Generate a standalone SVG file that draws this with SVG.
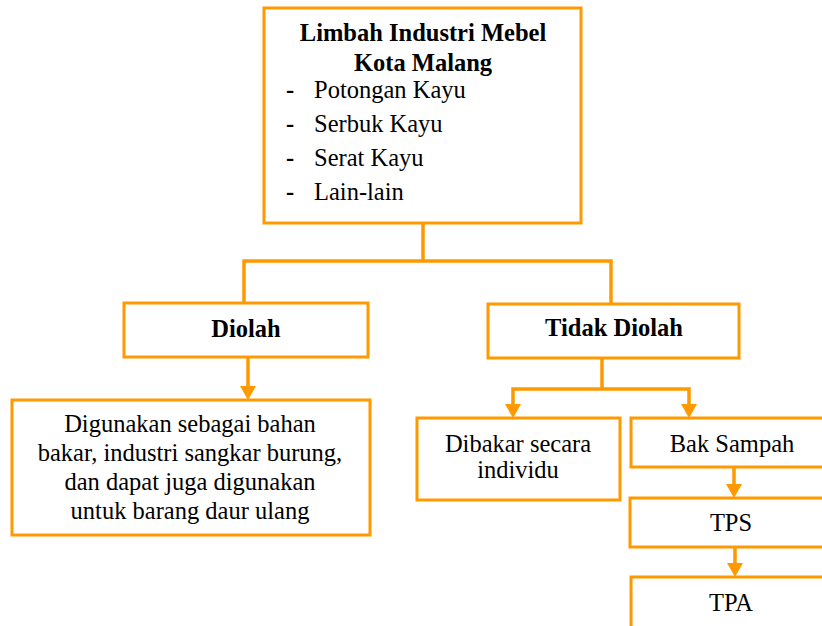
<svg xmlns="http://www.w3.org/2000/svg" width="822" height="626" viewBox="0 0 822 626">
  <style>
    .box { fill: #ffffff; stroke: #FF9900; stroke-width: 3; }
    .wire { fill: none; stroke: #FF9900; stroke-width: 3.5; }
    .head { fill: #FF9900; }
    text { font-family: "Liberation Serif", "Times New Roman", serif; font-size: 24.5px; fill: #000000; }
    .b { font-weight: bold; }
    .c { text-anchor: middle; }
  </style>

  <!-- connectors -->
  <g id="connectors">
    <!-- main split -->
    <polyline class="wire" points="423,223 423,261"/>
    <polyline class="wire" points="244,303 244,261 611,261 611,304"/>
    <!-- Diolah to usage -->
    <line class="wire" x1="248" y1="357" x2="248" y2="388"/>
    <polygon class="head" points="240,386 256,386 248,400"/>
    <!-- Tidak Diolah split -->
    <polyline class="wire" points="602,358 602,389"/>
    <polyline class="wire" points="513,406 513,389 689,389 689,406"/>
    <polygon class="head" points="505,404 521,404 513,418"/>
    <polygon class="head" points="681,404 697,404 689,418"/>
    <!-- Bak Sampah to TPS to TPA -->
    <line class="wire" x1="734" y1="467" x2="734" y2="486"/>
    <polygon class="head" points="726,484 742,484 734,498"/>
    <line class="wire" x1="735" y1="547" x2="735" y2="565"/>
    <polygon class="head" points="727,563 743,563 735,577"/>
  </g>

  <g id="limbah">
    <rect class="box" x="264" y="8" width="317" height="215"/>
    <text class="b c" x="423" y="41">Limbah Industri Mebel</text>
    <text class="b c" x="423" y="71">Kota Malang</text>
    <text class="b" x="286" y="98">-</text>
    <text x="314" y="98">Potongan Kayu</text>
    <text class="b" x="286" y="132">-</text>
    <text x="314" y="132">Serbuk Kayu</text>
    <text class="b" x="286" y="166">-</text>
    <text x="314" y="166">Serat Kayu</text>
    <text class="b" x="286" y="200">-</text>
    <text x="314" y="200">Lain-lain</text>
  </g>

  <g id="diolah">
    <rect class="box" x="124" y="303" width="244" height="54"/>
    <text class="b c" x="246" y="337">Diolah</text>
  </g>

  <g id="tidak-diolah">
    <rect class="box" x="488" y="304" width="251" height="54"/>
    <text class="b c" x="614" y="336">Tidak Diolah</text>
  </g>

  <g id="pemanfaatan">
    <rect class="box" x="12" y="400" width="358" height="135"/>
    <text class="c" x="190" y="432">Digunakan sebagai bahan</text>
    <text class="c" x="190" y="461">bakar, industri sangkar burung,</text>
    <text class="c" x="190" y="490">dan dapat juga digunakan</text>
    <text class="c" x="190" y="519">untuk barang daur ulang</text>
  </g>

  <g id="dibakar">
    <rect class="box" x="417" y="418" width="203" height="82"/>
    <text class="c" x="518" y="452">Dibakar secara</text>
    <text class="c" x="518" y="478">individu</text>
  </g>

  <g id="bak-sampah">
    <rect class="box" x="631" y="418" width="202" height="49"/>
    <text class="c" x="732" y="452">Bak Sampah</text>
  </g>

  <g id="tps">
    <rect class="box" x="630" y="498" width="202" height="49"/>
    <text class="c" x="731" y="531">TPS</text>
  </g>

  <g id="tpa">
    <rect class="box" x="631" y="577" width="202" height="60"/>
    <text class="c" x="731" y="611">TPA</text>
  </g>
</svg>
